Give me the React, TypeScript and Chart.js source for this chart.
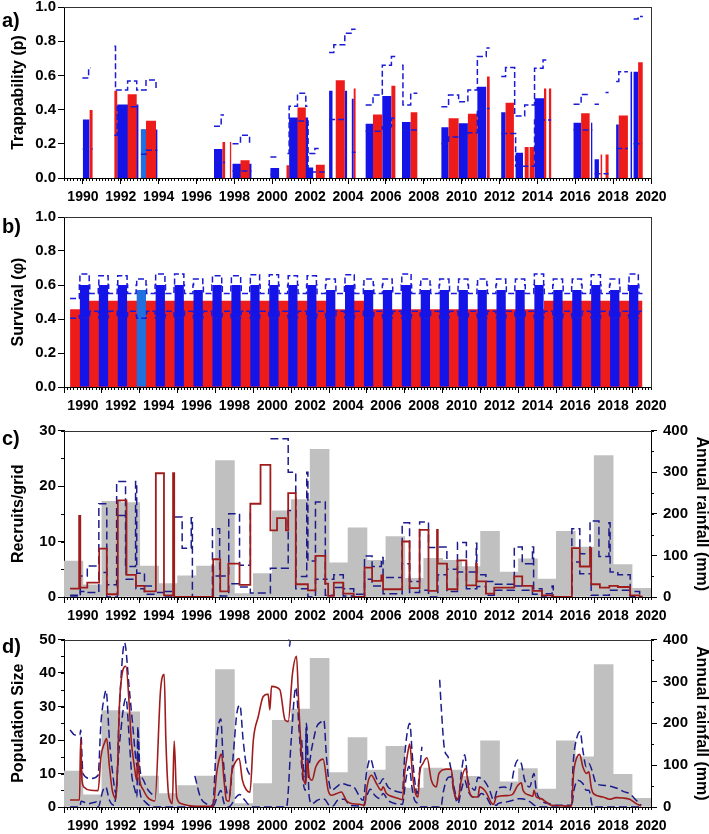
import React, { useEffect, useRef } from 'react';
import { Chart, registerables } from 'chart.js';

Chart.register(...registerables);

const FONT = "'Liberation Sans', Arial, Helvetica, sans-serif";
Chart.defaults.font.family = FONT;

// ---------- shared axis data ----------
const X_MIN = 1989;
const X_MAX = 2020;
const X_TICK_YEARS = [1990, 1992, 1994, 1996, 1998, 2000, 2002, 2004, 2006, 2008, 2010, 2012, 2014, 2016, 2018, 2020];

// ---------- panel a: trappability (start, end, value) ----------
const aBlue = [
  [1989.99, 1990.34, 0.342], [1991.81, 1992.93, 0.43], [1993.06, 1993.93, 0.284], [1996.92, 1997.37, 0.17],
  [1997.9, 1998.9, 0.084], [1999.9, 2000.36, 0.059], [2000.89, 2001.89, 0.354], [2001.89, 2002.16, 0.061],
  [2003.0, 2003.18, 0.51], [2003.83, 2003.95, 0.51], [2004.2, 2004.3, 0.464], [2004.93, 2005.32, 0.317],
  [2005.81, 2006.29, 0.48], [2006.85, 2007.31, 0.327], [2008.93, 2009.31, 0.297], [2009.84, 2010.33, 0.32],
  [2010.83, 2011.3, 0.534], [2012.09, 2012.32, 0.384], [2012.85, 2013.24, 0.147], [2013.85, 2014.35, 0.466],
  [2015.91, 2016.31, 0.323], [2016.83, 2016.9, 0.323], [2017.02, 2017.25, 0.11], [2018.16, 2018.3, 0.313],
  [2018.92, 2019.0, 0.622], [2019.08, 2019.32, 0.622],
];
const aLightBlue = [[1993.06, 1993.33, 0.284]];
const aRed = [
  [1990.34, 1990.51, 0.397], [1991.66, 1991.81, 0.51], [1992.36, 1992.84, 0.49], [1993.33, 1993.86, 0.335],
  [1997.37, 1997.51, 0.21], [1997.76, 1997.83, 0.21], [1998.32, 1998.8, 0.104], [2000.75, 2000.89, 0.074],
  [2001.33, 2001.77, 0.413], [2002.3, 2002.77, 0.078], [2003.35, 2003.83, 0.571], [2004.3, 2004.4, 0.524],
  [2005.32, 2005.81, 0.372], [2006.29, 2006.5, 0.54], [2007.31, 2007.66, 0.384], [2009.31, 2009.84, 0.35],
  [2010.33, 2010.83, 0.376], [2011.34, 2011.48, 0.593], [2012.32, 2012.76, 0.44], [2013.33, 2013.54, 0.182],
  [2013.59, 2013.85, 0.182], [2014.35, 2014.47, 0.524], [2014.61, 2014.73, 0.524], [2016.31, 2016.76, 0.378],
  [2017.34, 2017.42, 0.137], [2017.6, 2017.76, 0.137], [2018.3, 2018.78, 0.366], [2019.32, 2019.57, 0.677],
];
const aUpper: [number, number | null][] = [
  [1989.97, 0.585], [1990.3, 0.645], [1990.4, 0.645], [1990.4, null],
  [1991.66, 0.77], [1991.72, 0.515], [1992.36, 0.567], [1992.84, 0.515], [1992.93, 0.515], [1992.93, null],
  [1993.06, 0.515], [1993.33, 0.573], [1993.86, 0.52], [1993.93, 0.52], [1993.93, null],
  [1996.92, 0.303], [1997.3, 0.368], [1997.45, 0.368], [1997.45, null],
  [1997.9, 0.2], [1998.32, 0.25], [1998.8, 0.2], [1998.9, 0.2], [1998.9, null],
  [1999.9, 0.123], [2000.36, 0.123], [2000.36, null],
  [2000.8, 0.143], [2000.89, 0.42], [2001.33, 0.495], [2001.77, 0.42], [2001.86, 0.42], [2001.86, null],
  [2001.95, 0.143], [2002.25, 0.172], [2002.45, 0.172], [2002.45, null],
  [2003.0, 0.734], [2003.25, 0.779], [2003.83, 0.847], [2004.2, 0.87], [2004.4, 0.87], [2004.4, null],
  [2004.93, 0.427], [2005.32, 0.485], [2005.81, 0.66], [2006.29, 0.71], [2006.5, 0.71], [2006.5, null],
  [2006.85, 0.66], [2006.9, 0.427], [2007.31, 0.495], [2007.66, 0.495], [2007.66, null],
  [2008.93, 0.417], [2009.31, 0.485], [2009.84, 0.446], [2010.33, 0.515], [2010.83, 0.71], [2011.3, 0.76], [2011.48, 0.76], [2011.48, null],
  [2012.09, 0.593], [2012.32, 0.646], [2012.8, 0.362], [2013.33, 0.427], [2013.85, 0.642], [2014.3, 0.69], [2014.47, 0.69], [2014.47, null],
  [2015.91, 0.432], [2016.31, 0.489], [2016.76, 0.489], [2016.76, null],
  [2017.02, 0.432], [2017.25, 0.432], [2017.25, null],
  [2017.6, 0.5], [2017.76, 0.5], [2017.76, null],
  [2018.16, 0.564], [2018.3, 0.622], [2018.78, 0.622], [2018.78, null],
  [2019.08, 0.93], [2019.32, 0.945], [2019.57, 0.945],
];
const aLower: [number, number | null][] = [
  [1989.99, 0.17], [1990.51, 0.17], [1990.51, null],
  [1991.66, 0.25], [1991.81, 0.417], [1992.93, 0.417], [1992.93, null],
  [1993.06, 0.139], [1993.33, 0.162], [1993.93, 0.162], [1993.93, null],
  [1996.92, 0.09], [1997.51, 0.09], [1997.51, null],
  [1997.9, 0.041], [1998.9, 0.041], [1998.9, null],
  [1999.9, 0.02], [2000.36, 0.02], [2000.36, null],
  [2000.89, 0.333], [2001.89, 0.035], [2002.77, 0.035], [2002.77, null],
  [2003.0, 0.342], [2003.95, 0.342], [2003.95, null],
  [2004.2, 0.15], [2004.4, 0.15], [2004.4, null],
  [2004.93, 0.274], [2005.81, 0.3], [2006.29, 0.35], [2006.5, 0.35], [2006.5, null],
  [2006.85, 0.28], [2007.66, 0.28], [2007.66, null],
  [2008.93, 0.2], [2009.31, 0.24], [2010.33, 0.264], [2010.83, 0.407], [2011.48, 0.407], [2011.48, null],
  [2012.09, 0.26], [2012.85, 0.068], [2013.85, 0.339], [2014.73, 0.339], [2014.73, null],
  [2015.91, 0.28], [2016.9, 0.28], [2016.9, null],
  [2017.02, 0.025], [2017.76, 0.025], [2017.76, null],
  [2018.16, 0.172], [2018.78, 0.172], [2018.78, null],
  [2019.08, 0.2], [2019.57, 0.2],
];

// ---------- panel b: survival ----------
const bYears = [1990, 1991, 1992, 1993, 1994, 1995, 1996, 1997, 1998, 1999, 2000, 2001, 2002, 2003, 2004,
  2005, 2006, 2007, 2008, 2009, 2010, 2011, 2012, 2013, 2014, 2015, 2016, 2017, 2018, 2019];
const bBlue = [0.6, 0.6, 0.6, 0.57, 0.6, 0.6, 0.57, 0.6, 0.6, 0.6, 0.6, 0.6, 0.6, 0.57, 0.6,
  0.57, 0.57, 0.6, 0.57, 0.57, 0.57, 0.57, 0.57, 0.57, 0.6, 0.57, 0.57, 0.6, 0.57, 0.6];
const bUpper = [0.665, 0.655, 0.655, 0.635, 0.665, 0.665, 0.635, 0.655, 0.655, 0.66, 0.66, 0.655, 0.655, 0.635, 0.66,
  0.635, 0.635, 0.665, 0.635, 0.635, 0.635, 0.635, 0.635, 0.635, 0.665, 0.635, 0.635, 0.66, 0.635, 0.665];
const bLower = 0.405;
const bRedEdges = [1989.32, 1989.84, 2003.3, 2004.3, 2005.0, 2014.35, 2019.55];
const bRedVals = [0.457, 0.508, 0.457, 0.508, 0.457, 0.508];

// ---------- rainfall (panels c and d) ----------
const rainYears = [1989, 1990, 1991, 1992, 1993, 1994, 1995, 1996, 1997, 1998, 1999, 2000, 2001, 2002, 2003, 2004,
  2005, 2006, 2007, 2008, 2009, 2010, 2011, 2012, 2013, 2014, 2015, 2016, 2017, 2018, 2019];
const rainMm = [86, 29, 230, 227, 74, 32, 51, 74, 328, 8, 56, 207, 234, 355, 82, 166,
  88, 145, 45, 93, 88, 73, 158, 60, 92, 43, 158, 120, 340, 78, 21];

// ---------- panel c: recruits/grid (step series) ----------
const cRed: [number, number][] = [
  [1989.32, 1.5], [1989.8, 14.6], [1989.86, 1.7], [1990.23, 2.6], [1990.86, 8.7], [1991.26, 0.5], [1991.84, 17.4],
  [1992.3, 4.0], [1992.8, 2.0], [1993.25, 1.0], [1993.85, 22.3], [1994.28, 0.3], [1994.76, 22.3], [1994.82, 0],
  [1996.88, 6.8], [1997.25, 1.0], [1997.68, 6.0], [1998.27, 2.2], [1998.84, 16.8], [1999.38, 23.8], [1999.9, 12.0],
  [2000.25, 14.2], [2000.72, 12.0], [2000.84, 18.7], [2001.24, 2.3], [2001.88, 1.2], [2002.28, 7.4], [2002.8, 2.4],
  [2002.95, 0.2], [2003.25, 2.6], [2003.75, 0.6], [2004.3, 0], [2004.87, 5.3], [2005.27, 2.9], [2005.76, 3.9],
  [2005.85, 1.4], [2006.86, 10.0], [2007.25, 1.6], [2007.78, 12.1], [2008.25, 1.1], [2008.7, 12.1], [2008.74, 6.0],
  [2009.22, 1.4], [2009.78, 6.6], [2010.25, 2.1], [2010.77, 6.0], [2010.8, 2.8], [2011.28, 0.6], [2011.72, 1.7],
  [2012.78, 3.7], [2013.2, 2.0], [2013.74, 1.1], [2014.24, 0.3], [2014.82, 0], [2015.82, 8.8], [2016.24, 5.5],
  [2016.78, 8.8], [2016.84, 2.3], [2017.3, 1.7], [2017.8, 2.0], [2018.25, 1.8], [2018.9, 0.3], [2019.4, 0], [2019.55, 0],
];
const cUpper: [number, number | null][] = [
  [1989.32, 0.3], [1989.86, 3.8], [1990.23, 5.6], [1990.84, 16.8], [1991.26, 2.2], [1991.78, 20.8], [1992.25, 5.5],
  [1992.78, 20.8], [1992.84, 4.3], [1993.25, 2.0], [1993.85, 2.0], [1993.86, null],
  [1994.28, 1.0], [1994.76, 1.0], [1994.77, null],
  [1994.82, 14.4], [1995.24, 8.8], [1995.72, 14.3], [1995.78, 0], [1996.84, 12.3], [1997.22, 3.8], [1997.7, 15.0],
  [1998.27, 5.7], [1998.84, 15.2], [1998.86, null],
  [1999.9, 28.5], [2000.84, 22.5], [2001.24, 3.7], [2001.82, 22.5], [2001.88, 6.5], [2002.28, 17.1],
  [2002.8, 3.2], [2003.25, 4.0], [2003.75, 1.5], [2004.3, 0.5], [2004.87, 7.4], [2005.27, 5.5], [2005.76, 7.1],
  [2005.85, 3.5], [2006.86, 13.4], [2007.25, 2.8], [2007.78, 13.5], [2008.25, 8.9], [2008.74, 9.0], [2009.22, 5.0],
  [2009.78, 9.8], [2010.25, 4.5], [2010.77, 9.7], [2010.8, 4.0], [2011.28, 2.8], [2011.72, 2.3], [2012.78, 9.0],
  [2013.2, 6.0], [2013.74, 9.0], [2013.8, 1.5], [2014.24, 0.6], [2014.78, 2.0], [2014.84, 0], [2015.82, 12.3],
  [2016.24, 7.8], [2016.78, 13.7], [2017.25, 7.3], [2017.78, 13.4], [2017.84, 4.5], [2018.25, 4.0], [2018.9, 1.0],
  [2019.4, 0.3], [2019.55, 0.3],
];
const cLower: [number, number][] = [
  [1989.32, 0], [1989.86, 1.0], [1990.23, 0.8], [1990.84, 4.4], [1991.26, 0], [1991.82, 14.7], [1992.28, 3.2],
  [1992.8, 1.5], [1993.25, 0.5], [1993.85, 0.8], [1994.28, 0], [1996.86, 3.8], [1997.25, 0.2], [1997.7, 2.4],
  [1998.27, 1.8], [1998.84, 0.7], [1999.9, 5.2], [2000.84, 15.6], [2001.24, 1.5], [2001.88, 0], [2002.28, 3.2],
  [2002.8, 0.3], [2003.25, 1.7], [2003.75, 0.2], [2004.3, 0], [2004.87, 3.2], [2005.27, 2.0], [2005.85, 0.6],
  [2006.86, 6.0], [2007.25, 0.8], [2007.78, 1.2], [2008.25, 0], [2008.74, 4.0], [2009.22, 1.0], [2009.78, 4.5],
  [2010.25, 1.5], [2010.8, 1.9], [2011.28, 0.3], [2011.72, 1.2], [2012.78, 2.0], [2013.2, 1.2], [2013.74, 0.5],
  [2014.24, 0], [2015.82, 6.3], [2016.24, 4.2], [2016.84, 0.3], [2017.8, 1.2], [2018.25, 1.2], [2018.9, 0.1], [2019.55, 0.1],
];

// ---------- panel d: population size (smooth series) ----------
const dRed: [number, number][] = [
  [1989.32, 2.1], [1989.82, 2.1], [1989.88, 20.5], [1989.95, 8], [1990.05, 6], [1990.4, 5.0], [1990.8, 4.9], [1990.95, 15],
  [1991.13, 19], [1991.25, 20.4], [1991.4, 12], [1991.55, 5], [1991.75, 2.5], [1991.95, 33], [1992.27, 42], [1992.45, 30],
  [1992.55, 20], [1992.72, 12], [1992.84, 8], [1992.9, 14], [1993.0, 8], [1993.2, 5], [1993.4, 3], [1993.63, 2], [1993.8, 1.8],
  [1994.1, 35], [1994.29, 39.6], [1994.38, 20], [1994.5, 5], [1994.6, 2], [1994.72, 1], [1994.82, 19.7], [1994.95, 3],
  [1995.2, 1], [1995.8, 0.3], [1996.88, 0.2], [1997.06, 10], [1997.23, 15], [1997.32, 15.8], [1997.45, 8], [1997.58, 2],
  [1997.72, 1.7], [1997.85, 10], [1998.02, 13], [1998.25, 14.5], [1998.42, 8], [1998.65, 5], [1998.82, 4.4], [1999.0, 20],
  [1999.26, 27], [1999.52, 33], [1999.78, 33.7], [1999.87, 29], [1999.96, 36], [2000.4, 35], [2000.67, 26], [2000.84, 25.5],
  [2001.07, 40], [2001.28, 45], [2001.4, 30], [2001.55, 15], [2001.66, 8], [2001.77, 7], [2001.85, 14], [2001.95, 9],
  [2002.1, 8], [2002.3, 12], [2002.68, 14.3], [2002.95, 5], [2003.12, 3.5], [2003.4, 4], [2003.65, 4.5], [2003.9, 2],
  [2004.09, 1.2], [2004.6, 0.8], [2004.88, 0.5], [2005.0, 6], [2005.23, 9.5], [2005.5, 7], [2005.76, 5], [2005.85, 6],
  [2006.03, 4], [2006.4, 3], [2006.73, 2.4], [2006.87, 2.2], [2006.99, 10], [2007.12, 15], [2007.26, 18.8], [2007.4, 10],
  [2007.52, 5], [2007.7, 3], [2007.78, 10], [2007.96, 13], [2008.17, 14.7], [2008.4, 8], [2008.66, 6], [2008.8, 10],
  [2009.2, 11.3], [2009.45, 11.3], [2009.58, 5], [2009.81, 2.3], [2009.98, 8], [2010.21, 11.5], [2010.39, 5], [2010.6, 3],
  [2010.86, 3], [2010.95, 6], [2011.21, 5], [2011.33, 4], [2011.57, 1.2], [2011.69, 0.8], [2011.83, 3], [2012.36, 3.4],
  [2012.67, 3.7], [2012.97, 6.5], [2013.15, 7.2], [2013.24, 5], [2013.59, 3.5], [2013.76, 3.2], [2013.82, 5], [2013.94, 3],
  [2014.2, 2.5], [2014.47, 1.5], [2014.73, 0.5], [2015.8, 0.3], [2015.91, 10], [2016.1, 15], [2016.23, 15.7], [2016.4, 12],
  [2016.58, 10], [2016.72, 10.5], [2016.84, 6], [2016.96, 4], [2017.46, 3], [2017.81, 2.3], [2018.16, 2.8], [2018.51, 2.7],
  [2018.87, 2.3], [2019.22, 1], [2019.48, 0.3],
];
const dUpper: [number, number | null][] = [
  [1989.32, 23], [1989.58, 21.5], [1989.84, 21.5], [1989.88, 23], [1990.0, 10], [1990.4, 8.5], [1990.8, 9.5], [1990.95, 25],
  [1991.13, 33], [1991.22, 34.8], [1991.4, 20], [1991.57, 10], [1991.75, 4], [1991.93, 30], [1992.2, 49], [1992.45, 35],
  [1992.62, 25], [1992.8, 14], [1992.87, 12], [1992.9, 24], [1993.0, 12], [1993.2, 8], [1993.45, 5], [1993.71, 3.5], [1993.78, null],
  [1995.91, 9.3], [1996.2, 3], [1996.5, 1], [1996.85, 0.5], [1997.06, 20], [1997.28, 26.3], [1997.4, 15], [1997.58, 5],
  [1997.72, 3], [1997.93, 15], [1998.13, 28], [1998.29, 30.4], [1998.46, 20], [1998.64, 12], [1998.82, 9.5], [1998.9, null],
  [2000.84, 52], [2000.92, 48], [2000.98, 55], [2001.0, null],
  [2001.55, 20], [2001.64, 12], [2001.74, 9], [2001.8, 24], [2001.9, 12], [2002.1, 18], [2002.35, 24], [2002.6, 25.5],
  [2002.72, 26], [2002.86, 15], [2002.98, 8], [2003.12, 5], [2003.4, 6], [2003.65, 7], [2004.0, 6.5], [2004.3, 6], [2004.8, 2],
  [2004.97, 10], [2005.18, 14.4], [2005.41, 10], [2005.67, 7], [2005.85, 8.4], [2006.11, 6], [2006.38, 5], [2006.73, 4.4],
  [2006.87, 4.3], [2006.99, 15], [2007.12, 22], [2007.26, 25], [2007.4, 15], [2007.52, 8], [2007.64, 4], [2007.8, 12],
  [2007.9, 18], [2007.95, null],
  [2008.84, 38], [2008.92, 30], [2009.1, 17], [2009.28, 15], [2009.45, 11], [2009.63, 5], [2009.81, 2], [2009.98, 10],
  [2010.16, 15.6], [2010.33, 8], [2010.51, 6], [2010.69, 5], [2010.86, 8.8], [2011.12, 8.2], [2011.3, 7], [2011.48, 5],
  [2011.69, 2], [2011.92, 5.6], [2012.27, 6], [2012.53, 5], [2012.8, 12], [2012.97, 14], [2013.15, 13], [2013.33, 8],
  [2013.59, 6], [2013.82, 10], [2013.94, 5], [2014.2, 2], [2014.64, 1], [2015.0, 0.5], [2015.8, 0.5], [2015.88, 12],
  [2016.1, 21], [2016.26, 22.5], [2016.4, 17], [2016.58, 12], [2016.72, 13], [2016.93, 10], [2017.1, 7], [2017.46, 6.5],
  [2017.99, 6], [2018.25, 5.5], [2018.6, 4.5], [2018.87, 4], [2019.22, 2], [2019.48, 0.5],
];
const dLower: [number, number][] = [
  [1989.32, 0], [1989.84, 0], [1989.9, 1.7], [1990.3, 1], [1990.72, 1.5], [1990.8, 0], [1991.06, 5], [1991.2, 6], [1991.4, 2],
  [1991.65, 0.5], [1991.95, 20], [1992.27, 32.5], [1992.45, 20], [1992.57, 10], [1992.75, 5], [1992.85, 3], [1992.9, 22],
  [1993.0, 5], [1993.2, 2], [1993.45, 0.7], [1993.71, 0], [1996.84, 0], [1997.1, 3], [1997.28, 4.9], [1997.46, 1], [1997.7, 0],
  [1998.1, 3], [1998.28, 3.7], [1998.55, 2], [1998.82, 0.3], [1999.0, 0], [2000.75, 0], [2001.0, 20], [2001.24, 35.7],
  [2001.45, 20], [2001.62, 8], [2001.74, 5], [2001.8, 25], [2001.95, 3], [2002.1, 1], [2002.38, 2], [2002.65, 2.5],
  [2002.82, 2], [2003.0, 0.5], [2003.2, 0.3], [2003.45, 2], [2003.8, 2.3], [2004.1, 0.5], [2004.8, 0.3], [2004.97, 3],
  [2005.18, 5.3], [2005.41, 3.5], [2005.67, 2.5], [2005.85, 4], [2006.11, 2], [2006.38, 1.2], [2006.87, 0.8], [2007.05, 8],
  [2007.22, 12.2], [2007.4, 5], [2007.52, 2], [2007.7, 1], [2007.8, 0], [2008.9, 0], [2009.05, 5], [2009.28, 8.8], [2009.45, 9],
  [2009.58, 5], [2009.81, 1], [2009.98, 5], [2010.16, 8], [2010.33, 5], [2010.6, 3], [2010.86, 3], [2011.03, 4], [2011.3, 3],
  [2011.57, 0.6], [2011.83, 0.5], [2011.92, 1], [2012.36, 1.5], [2012.71, 2], [2012.88, 2.4], [2013.15, 2.5], [2013.59, 1.6],
  [2013.85, 0.5], [2014.3, 0], [2015.8, 0], [2015.93, 5], [2016.14, 8], [2016.4, 7], [2016.58, 5], [2016.72, 5], [2016.93, 0],
  [2019.5, 0],
];

// ---------- styling ----------
const BLUE = '#1414e8';
const LIGHT_BLUE = '#2070e0';
const RED = '#ee1b1b';
const CI_BLUE = '#1a1ad8';
const GRAY = '#c0c0c0';
const DARK_RED = '#a01c1c';
const NAVY = '#1c1c8c';
const PAD_TOP = 10;
const X_AXIS_H = 30;
const BAR_SHIFT = 0.085;

const rectPts = (bars: number[][]) =>
  bars.flatMap(([s, e, v]) => [{ x: s, y: 0 }, { x: s, y: v }, { x: e, y: v }, { x: e, y: 0 }]);
const pairPts = (pairs: [number, number | null][]) => pairs.map(([x, y]) => ({ x, y }));
const stepFillPts = (edges: number[], vals: number[]) => {
  const pts = [{ x: edges[0], y: 0 }];
  vals.forEach((v, i) => { pts.push({ x: edges[i], y: v }, { x: edges[i + 1], y: v }); });
  pts.push({ x: edges[edges.length - 1], y: 0 });
  return pts;
};

function decor(minors: { axis: string; step: number; len: number }[], boxRight: boolean) {
  return {
    id: 'decor',
    afterDraw(chart: any) {
      const { ctx, chartArea } = chart;
      ctx.save();
      ctx.strokeStyle = '#000';
      ctx.lineWidth = 1;
      for (const m of minors) {
        const sc = chart.scales[m.axis];
        const n = Math.round((sc.max - sc.min) / m.step);
        for (let i = 0; i <= n; i++) {
          const p = Math.round(sc.getPixelForValue(sc.min + i * m.step)) + 0.5;
          ctx.beginPath();
          if (sc.isHorizontal()) {
            const y0 = Math.round(sc.top);
            ctx.moveTo(p, y0); ctx.lineTo(p, y0 + m.len);
          } else if (sc.position === 'left') {
            const x0 = Math.round(sc.right);
            ctx.moveTo(x0, p); ctx.lineTo(x0 - m.len, p);
          } else {
            const x0 = Math.round(sc.left);
            ctx.moveTo(x0, p); ctx.lineTo(x0 + m.len, p);
          }
          ctx.stroke();
        }
      }
      ctx.strokeStyle = '#333';
      ctx.beginPath();
      const t = Math.round(chartArea.top) + 0.5;
      const r = Math.round(chartArea.right) + 0.5;
      ctx.moveTo(Math.round(chartArea.left), t);
      ctx.lineTo(r + 0.5, t);
      if (boxRight) { ctx.moveTo(r, t); ctx.lineTo(r, Math.round(chartArea.bottom) + 1); }
      ctx.stroke();
      ctx.restore();
    },
  };
}

const tickFontX = { family: FONT, size: 14, weight: 'bold' as const, lineHeight: 1 };
const tickFontY = { family: FONT, size: 15, weight: 'bold' as const, lineHeight: 1 };
const titleFont = { family: FONT, size: 16, weight: 'bold' as const, lineHeight: 1.2 };
const gridOpts = { display: true, drawOnChartArea: false, drawTicks: true, tickLength: 6, tickColor: '#000', tickWidth: 1 };
const borderOpts = { display: true, color: '#000', width: 1 };

function xAxis() {
  return {
    type: 'linear', min: X_MIN, max: X_MAX, offset: false,
    afterBuildTicks: (s: any) => { s.ticks = X_TICK_YEARS.map((v) => ({ value: v })); },
    afterFit: (s: any) => { s.height = X_AXIS_H; },
    ticks: { autoSkip: false, maxRotation: 0, minRotation: 0, padding: 6, color: '#000', font: tickFontX, callback: (v: any) => String(v) },
    grid: gridOpts, border: borderOpts,
  };
}
function yLeft(min: number, max: number, step: number, title: string, fmt: (v: number) => string) {
  return {
    type: 'linear', position: 'left', min, max,
    afterFit: (s: any) => { s.width = 64; },
    ticks: { stepSize: step, padding: 2, color: '#000', font: tickFontY, callback: (v: any) => fmt(Number(v)) },
    grid: gridOpts, border: borderOpts,
    title: { display: true, text: title, color: '#000', font: titleFont, padding: { top: 9, bottom: 0 } },
  };
}
function yRight() {
  return {
    type: 'linear', position: 'right', min: 0, max: 400,
    afterFit: (s: any) => { s.width = 58; },
    ticks: { stepSize: 100, padding: 6, color: '#000', font: tickFontY, callback: (v: any) => String(v) },
    grid: gridOpts, border: borderOpts,
    title: { display: true, text: 'Annual rainfall (mm)', color: '#000', font: { ...titleFont, lineHeight: 1 }, padding: { top: 0, bottom: 0 } },
  };
}
function baseOptions(scales: any, right: boolean) {
  return {
    responsive: false, maintainAspectRatio: false, animation: false, devicePixelRatio: 1, events: [],
    layout: { padding: { top: PAD_TOP, left: 0, bottom: 0, right: right ? 0 : 58 } },
    plugins: { legend: { display: false }, tooltip: { enabled: false } },
    elements: { point: { radius: 0 } },
    scales,
  };
}
const fillDs = (data: any[], color: string, order: number) => ({
  type: 'line', data, fill: 'origin', backgroundColor: color, borderColor: 'transparent', borderWidth: 0, pointRadius: 0, order,
});
const lineDs = (data: any[], color: string, width: number, dash: number[], extra: any, order: number) => ({
  type: 'line', data, fill: false, borderColor: color, borderWidth: width, borderDash: dash, pointRadius: 0, order, ...extra,
});
const rainDs = () => ({
  type: 'bar', yAxisID: 'y2', data: rainYears.map((yr, i) => ({ x: yr + 0.5, y: rainMm[i] })),
  backgroundColor: GRAY, borderWidth: 0, barPercentage: 1, categoryPercentage: 1, order: 10,
});

const fix1 = (v: number) => v.toFixed(1);
const int0 = (v: number) => String(Math.round(v));

const configA = {
  type: 'line',
  data: {
    datasets: [
      fillDs(rectPts(aBlue), BLUE, 4),
      fillDs(rectPts(aLightBlue), LIGHT_BLUE, 3),
      fillDs(rectPts(aRed), RED, 2),
      lineDs(pairPts(aUpper), CI_BLUE, 1.5, [6, 3], { stepped: true }, 1),
      lineDs(pairPts(aLower), CI_BLUE, 1.5, [6, 3], { stepped: true }, 1),
    ],
  },
  options: baseOptions({ x: xAxis(), y: yLeft(0, 1, 0.2, 'Trappability (p)', fix1) }, false),
  plugins: [decor([{ axis: 'x', step: 1 / 6, len: 3 }], true)],
};

const bUpperPts: { x: number; y: number }[] = [{ x: 1989.32, y: 0.52 }];
const bLowerPts: { x: number; y: number }[] = [{ x: 1989.32, y: bLower }];
bYears.forEach((yr, i) => {
  bUpperPts.push({ x: yr - 0.19, y: 0.6 }, { x: yr - 0.16, y: bUpper[i] }, { x: yr + 0.33, y: 0.6 }, { x: yr + 0.36, y: 0.55 });
  bLowerPts.push({ x: yr - 0.19, y: 0.42 }, { x: yr - 0.16, y: bLower }, { x: yr + 0.33, y: 0.42 }, { x: yr + 0.36, y: 0.445 });
});
bUpperPts.push({ x: 2019.55, y: 0.55 });
bLowerPts.push({ x: 2019.55, y: 0.445 });

const configB = {
  type: 'line',
  data: {
    datasets: [
      fillDs(stepFillPts(bRedEdges, bRedVals), RED, 4),
      {
        type: 'bar', data: bYears.map((yr, i) => ({ x: yr + BAR_SHIFT, y: bBlue[i] })),
        backgroundColor: bYears.map((yr) => (yr === 1993 ? LIGHT_BLUE : BLUE)),
        borderWidth: 0, barPercentage: 0.49, categoryPercentage: 1, order: 3,
      },
      lineDs(bUpperPts, CI_BLUE, 1.5, [6, 3], { stepped: true }, 1),
      lineDs(bLowerPts, CI_BLUE, 1.5, [6, 3], { stepped: true }, 1),
    ],
  },
  options: baseOptions({ x: xAxis(), y: yLeft(0, 1, 0.2, 'Survival (\u03c6)', fix1) }, false),
  plugins: [decor([{ axis: 'x', step: 1 / 6, len: 3 }], true)],
};

const configC = {
  type: 'line',
  data: {
    datasets: [
      rainDs(),
      lineDs(pairPts(cUpper), NAVY, 1.5, [8, 4], { stepped: true }, 2),
      lineDs(pairPts(cLower), NAVY, 1.5, [8, 4], { stepped: true }, 2),
      lineDs(pairPts(cRed), DARK_RED, 1.8, [], { stepped: true }, 1),
    ],
  },
  options: baseOptions({ x: xAxis(), y: yLeft(0, 30, 10, 'Recruits/grid', int0), y2: yRight() }, true),
  plugins: [decor([{ axis: 'x', step: 1 / 6, len: 3 }, { axis: 'y', step: 5, len: 3 }, { axis: 'y2', step: 50, len: 3 }], false)],
};

const smooth = { cubicInterpolationMode: 'monotone' };
const configD = {
  type: 'line',
  data: {
    datasets: [
      rainDs(),
      lineDs(pairPts(dUpper), NAVY, 1.5, [8, 4], smooth, 2),
      lineDs(pairPts(dLower), NAVY, 1.5, [8, 4], smooth, 2),
      lineDs(pairPts(dRed), DARK_RED, 1.6, [], smooth, 1),
    ],
  },
  options: baseOptions({ x: xAxis(), y: yLeft(0, 50, 10, 'Population Size', int0), y2: yRight() }, true),
  plugins: [decor([{ axis: 'x', step: 1 / 6, len: 3 }, { axis: 'y', step: 5, len: 3 }, { axis: 'y2', step: 50, len: 3 }], false)],
};

function Panel({ top, areaH, config }: { top: number; areaH: number; config: any }) {
  const ref = useRef<HTMLCanvasElement>(null);
  const height = PAD_TOP + areaH + X_AXIS_H;
  useEffect(() => {
    const chart = new Chart(ref.current as HTMLCanvasElement, config);
    return () => chart.destroy();
  }, []);
  return (
    <canvas ref={ref} width={709} height={height}
      style={{ position: 'absolute', left: 0, top, width: 709, height }} />
  );
}

const labelStyle = (top: number): React.CSSProperties => ({
  position: 'absolute', left: 2, top, font: `bold 20px ${FONT}`, lineHeight: '20px', color: '#000',
});

export default function App() {
  return (
    <div style={{ position: 'absolute', left: 0, top: 0, width: 709, height: 834, overflow: 'hidden', background: '#fff' }}>
      <Panel top={-3} areaH={171} config={configA} />
      <Panel top={207} areaH={170} config={configB} />
      <Panel top={417} areaH={170} config={configC} />
      <Panel top={626} areaH={171} config={configD} />
      <div style={labelStyle(10)}>a)</div>
      <div style={labelStyle(216)}>b)</div>
      <div style={labelStyle(428)}>c)</div>
      <div style={labelStyle(636)}>d)</div>
    </div>
  );
}
